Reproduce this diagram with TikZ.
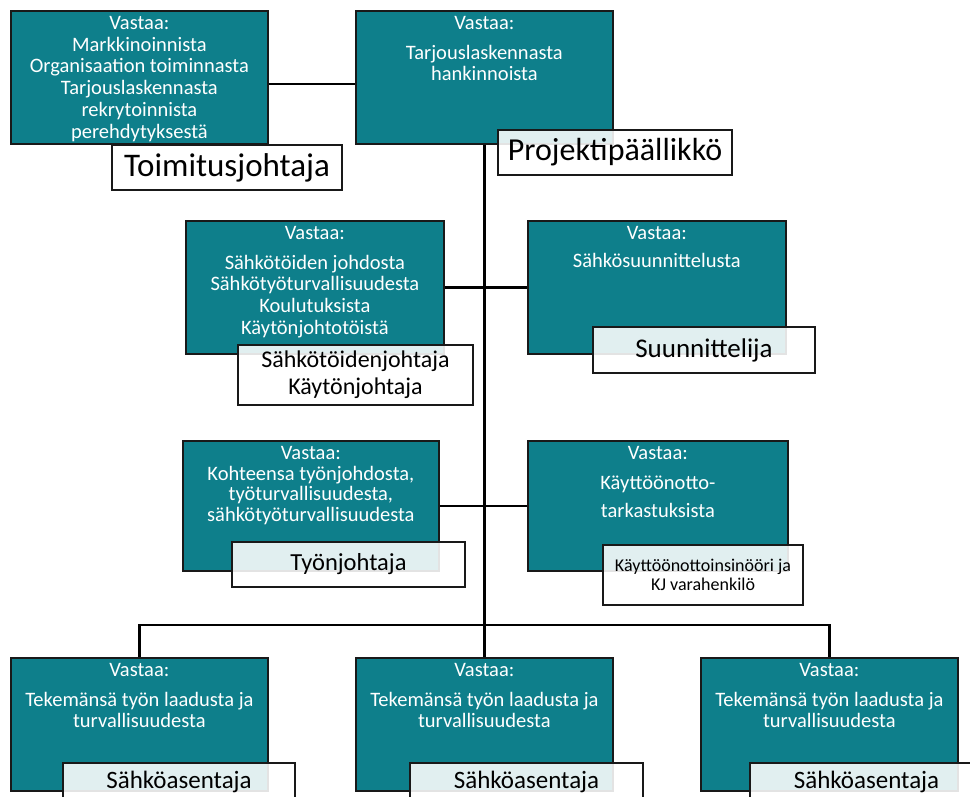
\documentclass[tikz,border=0pt]{standalone}
\usepackage{fontspec}
\setmainfont{Carlito}
\usetikzlibrary{positioning}
\definecolor{vteal}{RGB}{14,127,139}
\tikzset{resp/.style={draw=black!90,line width=1.8pt,fill=vteal,text=white,anchor=north west,minimum width=257pt,minimum height=133pt,inner sep=0pt,font=\fontsize{20.5}{21.7}\selectfont},
  role/.style={draw=black!90,line width=1.3pt,fill=white,fill opacity=0.88,text opacity=1,text=black,align=center,inner sep=0pt,minimum height=45pt,font=\fontsize{24}{27}\selectfont},
  link/.style={line width=2.2pt}}
\newcommand{\resptext}[2][127pt]{\parbox[c][#1][t]{252pt}{\centering\vspace*{2.5pt}#2}}

\begin{document}
\begin{tikzpicture}[x=1pt,y=-1pt]
    \clip (0,0) rectangle (970,796);
    \fill[white] (0,0) rectangle (970,796);

    % vastuualueet
    \node[resp] (tj) at (10,10) {\resptext{Vastaa:\\Markkinoinnista\\Organisaation toiminnasta\\Tarjouslaskennasta\\rekrytoinnista\\perehdytyksestä}};
    \node[resp] (pp) at (355,10) {\resptext{Vastaa:\\[8pt]Tarjouslaskennasta\\hankinnoista}};
    \node[resp,minimum width=258pt] (sj) at (185,220) {\resptext{Vastaa:\\[8pt]Sähkötöiden johdosta\\Sähkötyöturvallisuudesta\\Koulutuksista\\Käytönjohtotöistä}};
    \node[resp,minimum width=258pt] (su) at (527,220) {\resptext{Vastaa:\\[6pt]Sähkösuunnittelusta}};
    \node[resp,minimum width=256pt,minimum height=130pt] (tyo) at (182,440) {\resptext[124pt]{Vastaa:\\[-1pt]Kohteensa työnjohdosta,\\[-1pt]työturvallisuudesta,\\[-1pt]sähkötyöturvallisuudesta}};
    \node[resp,minimum width=260pt,minimum height=130pt] (ko) at (527,440) {\resptext[124pt]{Vastaa:\\[8pt]Käyttöönotto-\\[7pt]tarkastuksista}};
    \node[resp] (sa1) at (10,657) {\resptext{Vastaa:\\[8pt]Tekemänsä työn laadusta ja\\turvallisuudesta}};
    \node[resp] (sa2) at (355,657) {\resptext{Vastaa:\\[8pt]Tekemänsä työn laadusta ja\\turvallisuudesta}};
    \node[resp] (sa3) at (700,657) {\resptext{Vastaa:\\[8pt]Tekemänsä työn laadusta ja\\turvallisuudesta}};

    % nimikkeet
    \node[role,minimum width=230pt,font=\fontsize{33}{36}\selectfont] (tj-r) at (227,167.5) {Toimitusjohtaja};
    \node[role,minimum width=234pt,font=\fontsize{32}{36}\selectfont] (pp-r) at (615,152.5) {Projektipäällikkö};
    \node[role,minimum width=235pt,minimum height=60pt] (sj-r) at (355.5,375) {Sähkötöidenjohtaja\\Käytönjohtaja};
    \node[role,minimum width=222pt,minimum height=46pt,font=\fontsize{27}{30}\selectfont] (su-r) at (704,350) {Suunnittelija};
    \node[role,minimum width=233pt,font=\fontsize{24.5}{27}\selectfont] (tyo-r) at (348.5,564.5) {Työnjohtaja};
    \node[role,minimum width=200pt,minimum height=60pt,font=\fontsize{18}{19}\selectfont] (ko-r) at (703,575) {Käyttöönottoinsinööri ja\\KJ varahenkilö};
    \node[role,minimum width=232pt,minimum height=38pt,font=\fontsize{25}{28}\selectfont] (sa1-r) at (179,782) {Sähköasentaja};
    \node[role,minimum width=233pt,minimum height=38pt,font=\fontsize{25}{28}\selectfont] (sa2-r) at (526.5,782) {Sähköasentaja};
    \node[role,minimum width=233pt,minimum height=38pt,font=\fontsize{25}{28}\selectfont] (sa3-r) at (866.5,782) {Sähköasentaja};

    % yhteydet
    \draw[link] ([yshift=-6.5pt]tj.east) -- ([yshift=-6.5pt]pp.west);
    \draw[link] (pp.south) -- (sa2.north);
    \draw[link] (sj.east) -- (sj.east -| pp.south);
    \draw[link] (su.west) -- (su.west -| pp.south);
    \draw[link] (tyo.east) -- (tyo.east -| pp.south);
    \draw[link] (ko.west) -- (ko.west -| pp.south);
    \coordinate (jako) at (483.5,625);
    \draw[link] (sa1.north) |- (jako) -| (sa3.north);
\end{tikzpicture}
\end{document}
